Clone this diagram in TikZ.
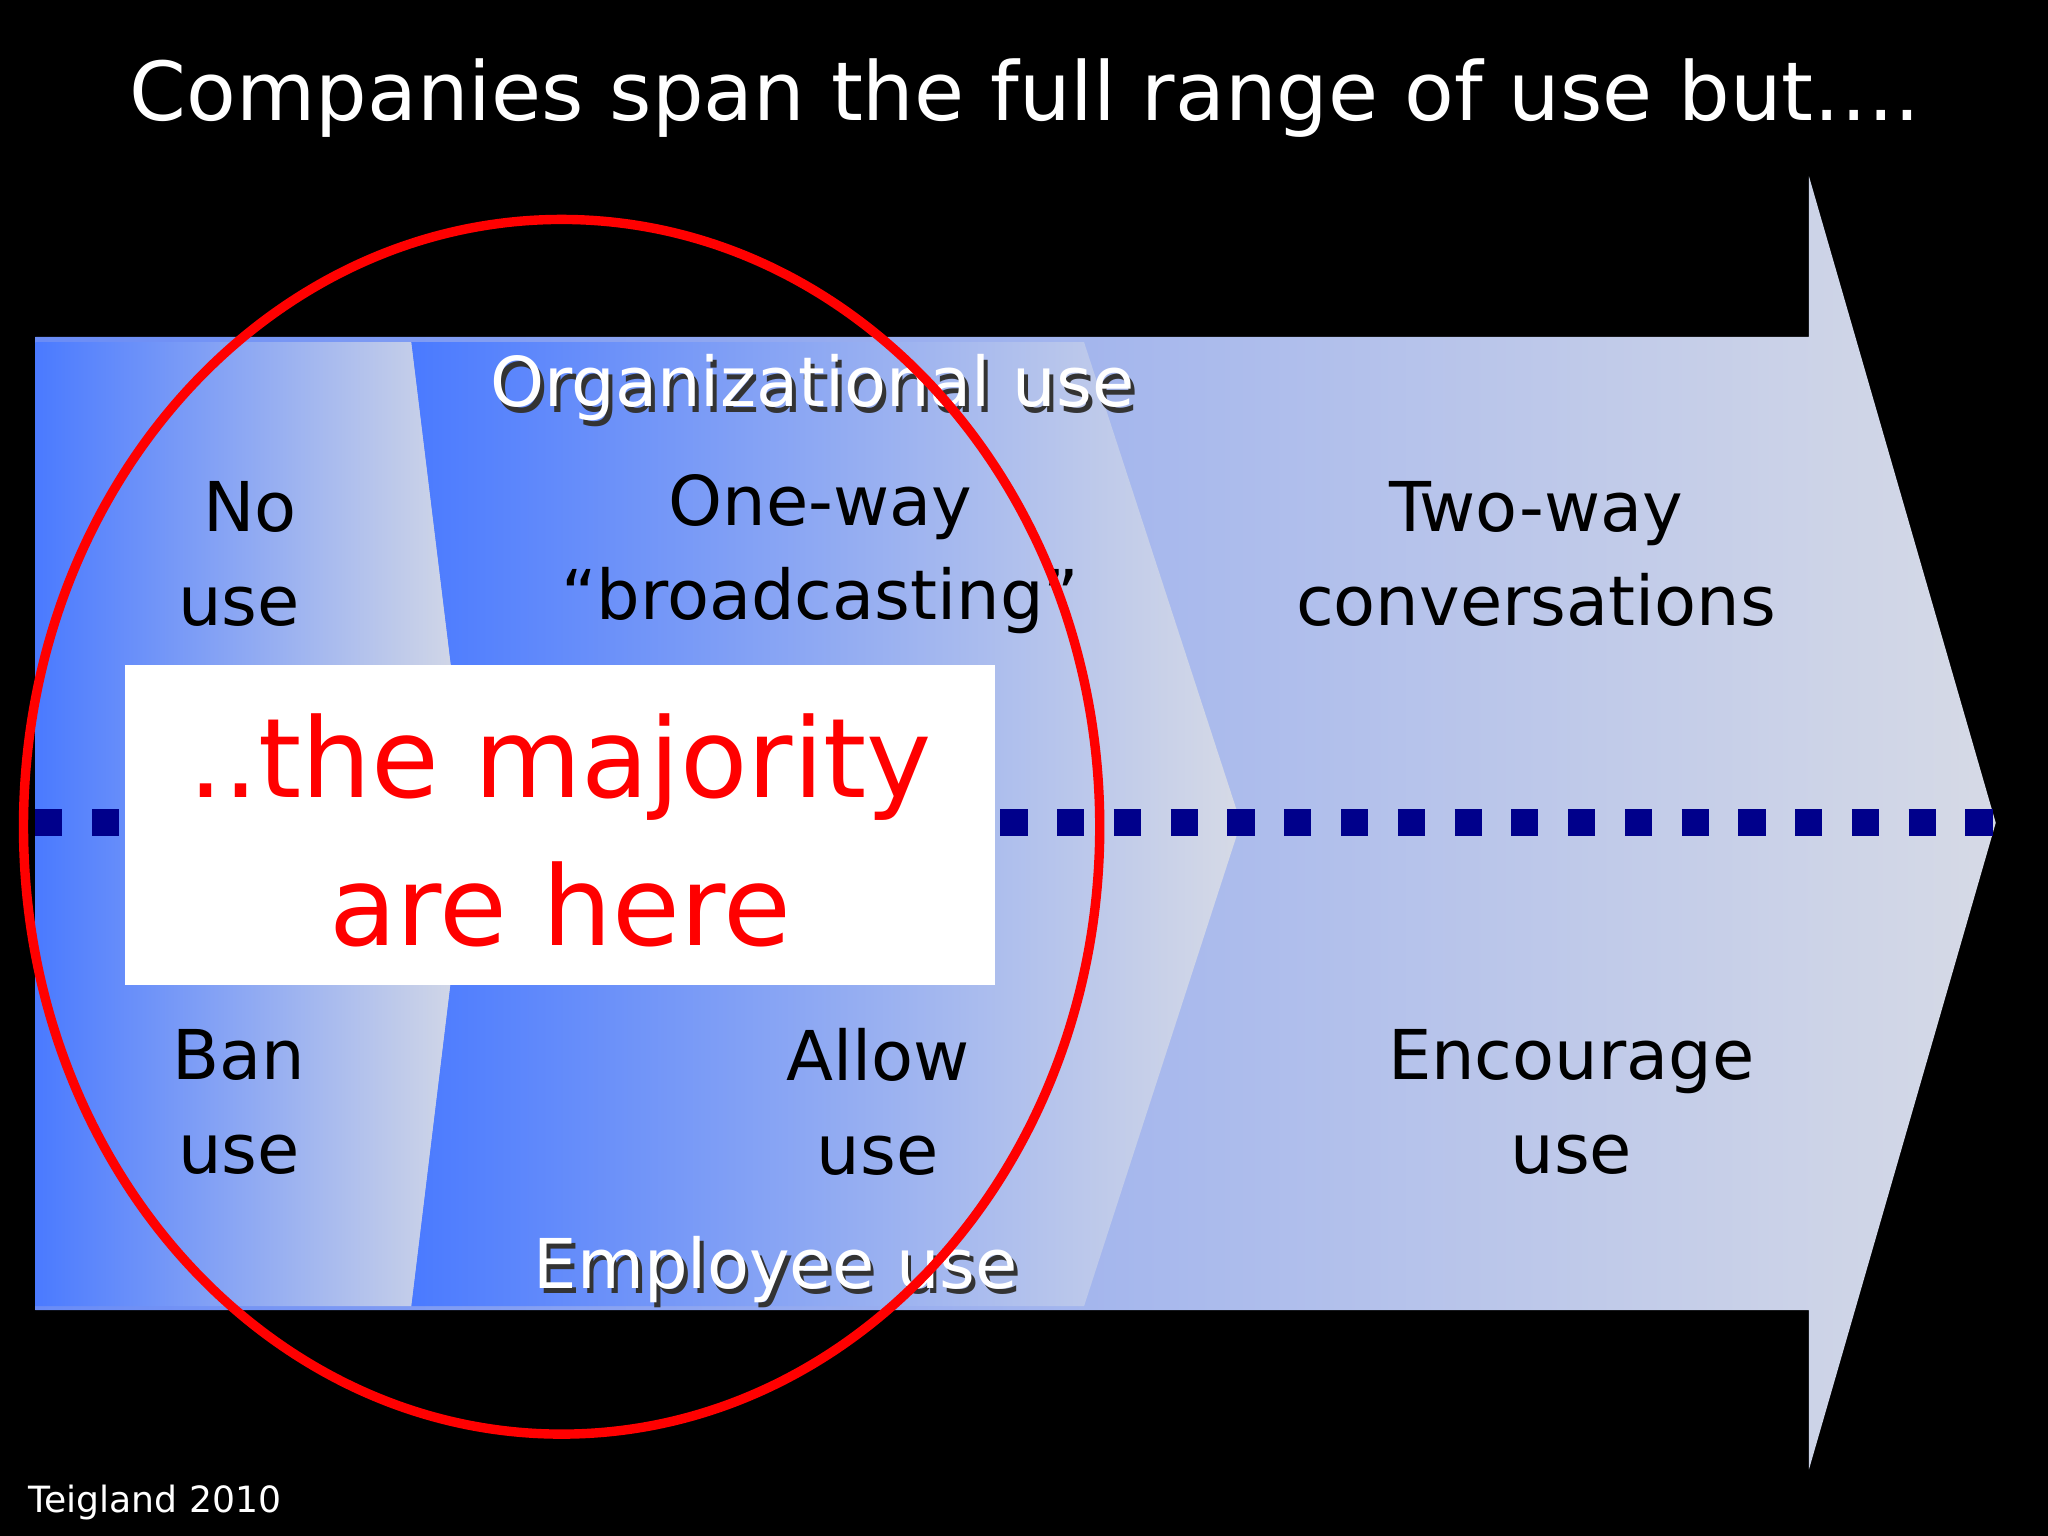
\documentclass[tikz,border=0pt]{standalone}
\usepackage{fontspec}
\setmainfont{DejaVu Sans}
\usetikzlibrary{shadings,calc}
\definecolor{bl}{HTML}{4A7AFF}
\definecolor{lg}{HTML}{D6DAE6}
\definecolor{mb}{HTML}{6A8CF6}
\definecolor{navy}{HTML}{00008B}
\tikzset{
 body/.style={font=\fontsize{19}{26}\selectfont, align=center, text=black},
 shad/.style={font=\fontsize{19}{25}\selectfont, text=white},
}
\begin{document}
\begin{tikzpicture}[x=0.0127cm,y=-0.0127cm]
\fill[black] (0,0) rectangle (1568,1176);
\useasboundingbox (0,0) rectangle (1568,1176);
\node[text=white,font=\fontsize{22.5}{32}\selectfont] (title) at (785,75) {Companies span the full range of use but….};
% big arrow
\shade[left color=mb,right color=lg] (27,258) -- (1385,258) -- (1385,135) -- (1528,630) -- (1385,1125) -- (1385,1003) -- (27,1003) -- cycle;
% chevron 1
\shade[left color=bl,right color=lg] (27,262) -- (315,262) -- (360,630) -- (315,1000) -- (27,1000) -- cycle;
% chevron 2
\shade[left color=bl,right color=lg] (315,262) -- (830,262) -- (950,630) -- (830,1000) -- (315,1000) -- (360,630) -- cycle;
% dotted line
\coordinate (dl) at (27,630); \coordinate (dr) at (1528,630);
\draw[navy,line width=7.5pt,dash pattern=on 7.5pt off 8.2pt] (dl) -- (dr);
% texts
\node[body] (nouse) at (183,424) {\ No\\use};
\node[body] (oneway) at (628,424) {One-way\\“broadcasting”};
\node[body] (twoway) at (1176,424) {Two-way\\conversations};
\node[body] (ban) at (183,844) {Ban\\use};
\node[body] (allow) at (672,844) {Allow\\use};
\node[body] (enc) at (1203,844) {Encourage\\use};
\node[shad,text=black!80] at (625,301) {Organizational use};
\node[shad] (org) at (622,297) {Organizational use};
\node[shad,text=black!80] at (597,976) {Employee use};
\node[shad] (emp) at (594,972) {Employee use};
% white box
\node[fill=white,minimum width=666*0.0127cm,minimum height=245*0.0127cm,inner sep=0] (box) at (429,632) {};
\node[text=red,align=center,font=\fontsize{30.5}{41}\selectfont] (maj) at (429,636) {..the majority\\are here};
\draw[red,line width=2.6pt] (430,633) ellipse [x radius=412,y radius=465];
\node[text=white,font=\fontsize{10}{13}\selectfont,anchor=west] (cite) at (12,1150) {Teigland 2010};
\end{tikzpicture}
\end{document}
